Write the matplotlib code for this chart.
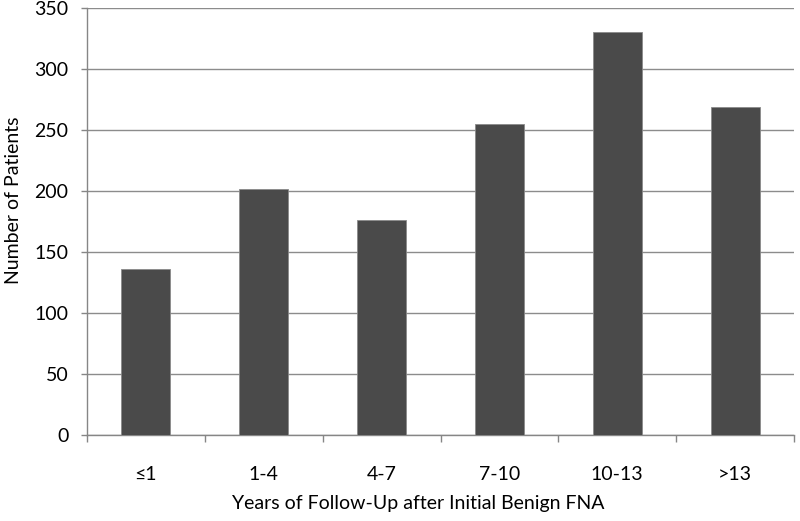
import matplotlib.pyplot as plt
import numpy as np

categories = ['≤1', '1-4', '4-7', '7-10', '10-13', '>13']
patients = [136, 202, 176, 255, 330, 269]

plt.rcParams['font.family'] = ['Lato', 'DejaVu Sans']

fig = plt.figure(figsize=(8, 5.21), dpi=100)
ax = fig.add_axes([0.10875, 0.165, 0.88375, 0.8196])

x = np.arange(len(categories))
ax.bar(x, patients, width=0.415, color='#4a4a4a', edgecolor='#8a8a8a', linewidth=0.6, zorder=3)

ax.set_xlim(-0.5, len(categories) - 0.5)
ax.set_ylim(0, 350)
ax.set_yticks(np.arange(0, 351, 50))
ax.yaxis.grid(True, color='#8c8c8c', linewidth=1.0)
ax.set_axisbelow(True)

ax.set_xticks(x)
ax.set_xticklabels(categories)
ax.set_xticks(np.arange(-0.5, len(categories)), minor=True)
ax.tick_params(axis='x', which='major', length=0, pad=22, labelsize=14)
ax.tick_params(axis='x', which='minor', length=5, color='#868686', width=1)
ax.tick_params(axis='y', length=4.5, color='#868686', width=1, labelsize=14, pad=9)

for side in ['top', 'right']:
    ax.spines[side].set_visible(False)
for side in ['left', 'bottom']:
    ax.spines[side].set_color('#868686')
    ax.spines[side].set_linewidth(1)

ax.set_xlabel('Years of Follow-Up after Initial Benign FNA', fontsize=14)
ax.set_ylabel('Number of Patients', fontsize=14)
# labels sit a little off-centre in the original
ax.xaxis.set_label_coords(0.468, -0.14)
ax.yaxis.set_label_coords(-0.092, 0.55)

fig.savefig('out.png', dpi=100)
